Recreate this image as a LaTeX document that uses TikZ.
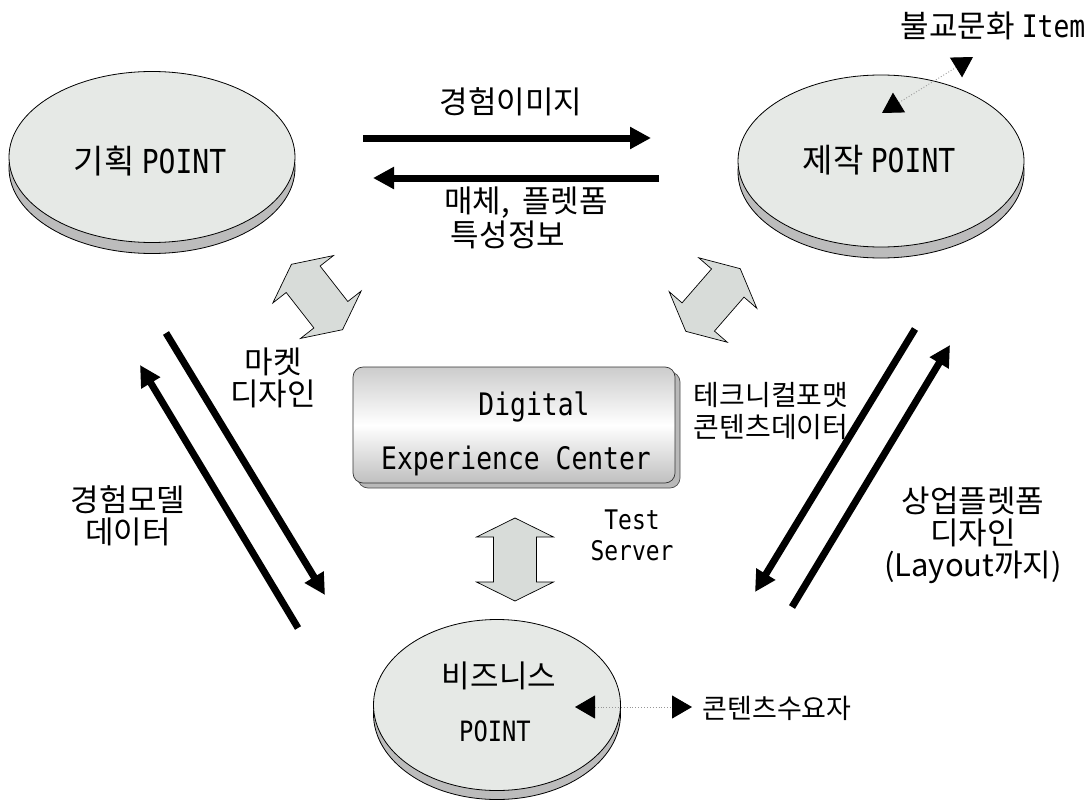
\documentclass[tikz,border=0pt]{standalone}
\usepackage{fontspec}
\setmainfont{Noto Sans CJK KR}
\newfontfamily\latmono[FakeStretch=0.85]{DejaVu Sans Mono}
\usetikzlibrary{arrows.meta,shapes.geometric}
\definecolor{ellfill}{RGB}{230,233,230}
\definecolor{ellshadow}{RGB}{188,188,188}
\definecolor{blockfill}{RGB}{216,220,217}
\definecolor{boxshadow}{RGB}{185,185,185}
\definecolor{dotline}{RGB}{150,150,150}
\tikzset{
  disc/.style={ellipse, draw=black, line width=0.8pt, fill=ellfill, inner sep=0pt},
  discshadow/.style={ellipse, draw=black, line width=0.8pt, fill=ellshadow, inner sep=0pt},
  pointlabel/.style={font=\fontsize{33}{40}\selectfont, inner sep=0pt},
  boxlabel/.style={font=\latmono\fontsize{31}{38}\selectfont, inner sep=0pt},
  lbl/.style={font=\fontsize{31}{32}\selectfont, align=center, inner sep=0pt},
  thickarrow/.style={line width=7pt, -{Triangle[length=21pt,width=21pt]}},
  dotarrow/.style={dotted, draw=dotline, line width=0.9pt,
     {Triangle[length=20pt,width=23pt,color=black]}-{Triangle[length=20pt,width=23pt,color=black]}},
  blockarrow/.style={draw=black, line width=0.7pt, fill=blockfill, line join=miter},
  dblarrow/.pic={\draw[blockarrow] (0,-41.5) -- (38.5,-22.5) -- (21.5,-22.5) -- (21.5,22.5) -- (38.5,22.5) -- (0,41.5) -- (-38.5,22.5) -- (-21.5,22.5) -- (-21.5,-22.5) -- (-38.5,-22.5) -- cycle;}
}
\begin{document}
\begin{tikzpicture}[x=1pt,y=-1pt]
\useasboundingbox (0,0) rectangle (1091,800);
% discs
\node[discshadow, minimum width=286pt, minimum height=171pt] (plansh) at (152,168) {};
\node[disc, minimum width=286pt, minimum height=171pt] (plan) at (152,157) {};
\node[discshadow, minimum width=286pt, minimum height=172pt] (makesh) at (881,172) {};
\node[disc, minimum width=286pt, minimum height=172pt] (make) at (881,161) {};
\node[discshadow, minimum width=247pt, minimum height=171pt] (bizsh) at (497,714) {};
\node[disc, minimum width=247pt, minimum height=171pt] (biz) at (497,705) {};
\node[pointlabel] (plant) at (150,161) {기획 {\latmono POINT}};
\node[pointlabel] (maket) at (879,160) {제작 {\latmono POINT}};
\node[pointlabel, font=\fontsize{31}{38}\selectfont] (bizt1) at (499,676) {비즈니스};
\node[pointlabel, font=\latmono\fontsize{28}{34}\selectfont] (bizt2) at (495,731) {POINT};
% center box
\draw[draw=black!70, line width=0.7pt, fill=boxshadow, rounded corners=10pt] (358,372) rectangle (680,488);
\node[draw=black!80, line width=0.7pt, rounded corners=10pt, minimum width=322pt, minimum height=116pt,
      top color=black!20, bottom color=black!25, middle color=white] (dec) at (514,425) {};
\node[boxlabel] (dect1) at (534,407) {Digital};
\node[boxlabel] (dect2) at (516,461) {Experience Center};
% block arrows
\pic at (317,297) [rotate=38] {dblarrow};
\pic at (713,300) [rotate=-41] {dblarrow};
\pic at (515,559.5) {dblarrow};
% labels
\node[lbl] (l1) at (511,102) {경험이미지};
\node[lbl] (l2) at (526,203) {매체,\hspace{0.4em}플렛폼};
\node[lbl] (l3) at (508,235) {특성정보};
\node[lbl] (l4) at (273,378) {마켓\\디자인};
\node[lbl] (l5) at (128,516) {경험모델\\데이터};
\node[lbl, font=\fontsize{28}{32}\selectfont] (l6) at (771,411) {테크니컬포맷\\콘텐츠데이터};
\node[lbl] (l7) at (973,535) {상업플렛폼\\디자인\\(Layout까지)};
\node[lbl, font=\latmono\fontsize{27}{31}\selectfont] (l8) at (632,535) {Test\\Server};
\node[lbl, font=\fontsize{27}{32}\selectfont] (l9) at (777,708) {콘텐츠수요자};
\node[lbl] (l10) at (993,26) {불교문화 {\latmono Item}};
% thick arrows
\coordinate (a1s) at (363,138); \coordinate (a1e) at (651,138);
\coordinate (a2s) at (659,178); \coordinate (a2e) at (373,178);
\coordinate (a3s) at (166,333); \coordinate (a3e) at (325,595);
\coordinate (a4s) at (298,628); \coordinate (a4e) at (140,365);
\coordinate (a5s) at (915,329); \coordinate (a5e) at (755,592);
\coordinate (a6s) at (792,607); \coordinate (a6e) at (950,345);
\draw[thickarrow] (a1s) -- (a1e);
\draw[thickarrow] (a2s) -- (a2e);
\draw[thickarrow] (a3s) -- (a3e);
\draw[thickarrow] (a4s) -- (a4e);
\draw[thickarrow] (a5s) -- (a5e);
\draw[thickarrow] (a6s) -- (a6e);
% dotted arrows
\coordinate (d1a) at (882,113); \coordinate (d1b) at (973,57);
\coordinate (d2a) at (575,707); \coordinate (d2b) at (692,707);
\draw[dotarrow] (d1a) -- (d1b);
\draw[dotarrow] (d2a) -- (d2b);
\end{tikzpicture}
\end{document}
